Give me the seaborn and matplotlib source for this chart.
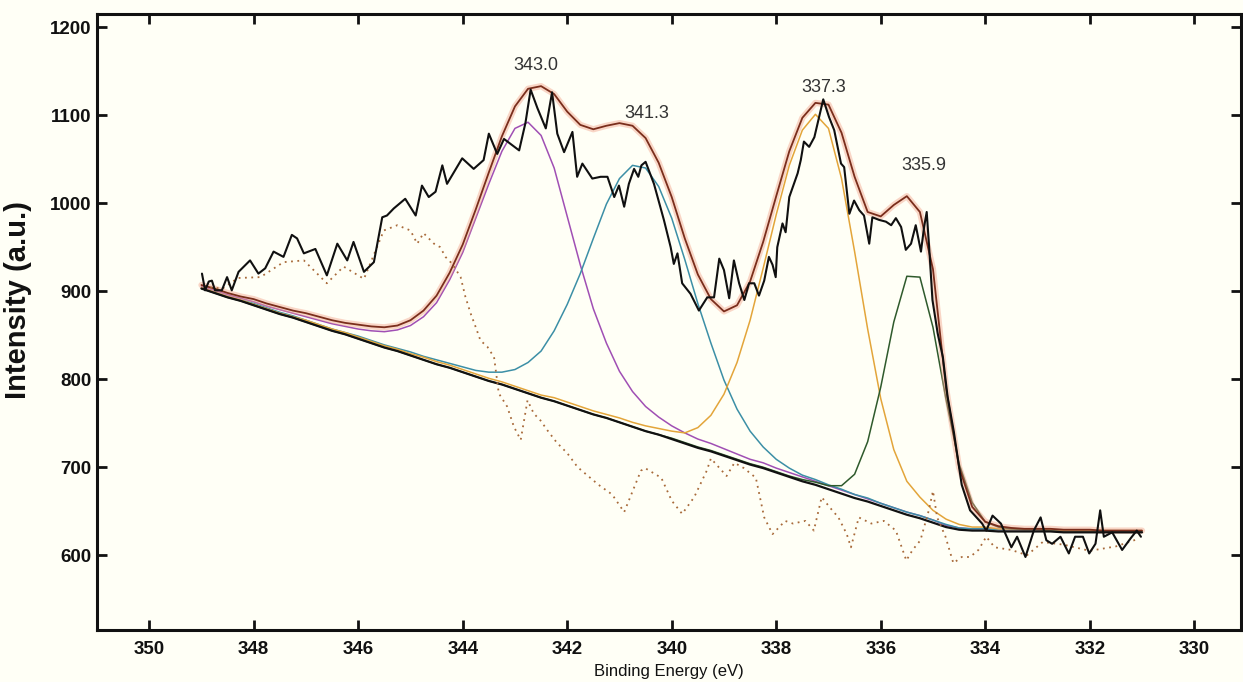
import numpy as np
import matplotlib
matplotlib.use("Agg")
import matplotlib.pyplot as plt
import seaborn as sns

# grid for the fitted curves: 349.00 -> 331.00 eV, step 0.25 (4 points per eV row)
grid_x = np.arange(0, 73) * -0.25 + 349.0

# Shirley-like background (absolute intensity)
background = [
    903, 898, 893, 889,   # 349
    884, 879, 874, 870,   # 348
    865, 860, 855, 851,   # 347
    846, 841, 836, 832,   # 346
    827, 822, 817, 813,   # 345
    808, 803, 798, 794,   # 344
    789, 784, 779, 775,   # 343
    770, 765, 760, 756,   # 342
    751, 746, 741, 737,   # 341
    732, 727, 722, 718,   # 340
    713, 708, 703, 699,   # 339
    694, 689, 684, 680,   # 338
    675, 670, 665, 661,   # 337
    656, 651, 646, 642,   # 336
    637, 632, 629, 628,   # 335
    628, 627, 627, 627,   # 334
    627, 627, 626, 626,   # 333
    626, 626, 626, 626,   # 332
    626,                  # 331
]

# component heights above the background
peak_343 = [
    2, 3, 3, 3,  4, 4, 5, 5,  6, 7, 8, 9,  11, 14, 18, 24,
    34, 49, 70, 100,  136, 180, 224, 265,  296, 308, 298, 265,
    215, 165, 120, 85,  58, 40, 28, 20,  15, 12, 10, 9,
    8, 7, 6, 6,  5, 5, 5, 4,  4, 4, 4, 3,  3, 3, 3, 3,
    3, 2, 2, 2,  2, 2, 2, 2,  2, 1, 1, 1,  1, 1, 1, 1,  1,
]
peak_341 = [
    1, 1, 1, 1,  2, 2, 2, 2,  2, 2, 2, 2,  3, 3, 3, 3,
    4, 4, 5, 5,  6, 7, 10, 14,  22, 35, 53, 80,
    115, 155, 200, 243,  277, 297, 299, 282,  251, 209, 164, 123,
    86, 58, 38, 24,  15, 10, 7, 6,  5, 5, 4, 4,  3, 3, 3, 3,
    3, 3, 2, 2,  2, 2, 2, 2,  2, 2, 2, 2,  1, 1, 1, 1,  1,
]
peak_337 = [
    1, 1, 1, 1,  1, 1, 1, 1,  2, 2, 2, 2,  2, 2, 2, 2,
    2, 3, 3, 3,  3, 3, 3, 3,  3, 3, 3, 4,
    4, 4, 4, 4,  5, 5, 6, 7,  9, 12, 23, 41,
    70, 111, 164, 227,  293, 354, 399, 421,  410, 358, 280, 196,
    122, 69, 38, 24,  14, 9, 6, 4,  4, 3, 3, 3,  3, 2, 2, 2,
    2, 2, 2, 2,  2,
]
peak_335 = [
    0, 0, 0, 0,  0, 0, 0, 0,  0, 0, 0, 0,  0, 0, 0, 0,
    0, 0, 0, 0,  0, 0, 0, 0,  0, 0, 0, 0,
    0, 0, 0, 0,  0, 0, 0, 0,  1, 1, 1, 1,
    1, 1, 1, 1,  1, 1, 2, 3,  4, 9, 27, 68,
    135, 214, 271, 274,  222, 145, 75, 32,  10, 5, 3, 2,  2, 1, 1, 1,
    1, 1, 1, 1,  1,
]

# fitted envelope (absolute intensity)
envelope = [
    907, 903, 898, 894,  891, 886, 882, 878,  875, 871, 867, 864,
    862, 860, 859, 861,  867, 878, 895, 921,  953, 993, 1035, 1076,
    1110, 1130, 1133, 1124,  1104, 1089, 1084, 1088,  1091, 1088, 1074, 1046,
    1007, 960, 919, 891,  877, 884, 911, 956,  1008, 1059, 1097, 1114,
    1112, 1080, 1030, 990,  985, 998, 1008, 990,  925, 790, 700, 655,
    638, 633, 631, 630,  630, 630, 629, 629,  629, 628, 628, 628,  628,
]

# measured spectrum
raw_x = [
    348.99, 348.93, 348.86, 348.80, 348.74, 348.61, 348.51, 348.42, 348.29, 348.07,
    347.91, 347.78, 347.62, 347.43, 347.27, 347.17, 347.04, 346.82, 346.60, 346.40,
    346.21, 346.09, 345.89, 345.70, 345.54, 345.45, 345.32, 345.10, 344.90, 344.78,
    344.65, 344.52, 344.39, 344.30, 344.01, 343.79, 343.60, 343.50, 343.34, 343.21,
    342.92, 342.80, 342.70, 342.57, 342.41, 342.29, 342.19, 342.06, 341.90, 341.81,
    341.71, 341.62, 341.52, 341.36, 341.23, 341.10, 341.01, 340.91, 340.82, 340.72,
    340.64, 340.58, 340.50, 340.34, 340.15, 340.02, 339.96, 339.89, 339.80, 339.64,
    339.48, 339.32, 339.19, 339.09, 339.00, 338.90, 338.81, 338.71, 338.61, 338.52,
    338.42, 338.33, 338.23, 338.14, 338.07, 338.01, 337.98, 337.88, 337.82, 337.75,
    337.66, 337.59, 337.53, 337.47, 337.37, 337.27, 337.18, 337.10, 336.99, 336.89,
    336.76, 336.70, 336.60, 336.51, 336.41, 336.32, 336.22, 336.16, 336.03, 335.90,
    335.80, 335.71, 335.61, 335.52, 335.42, 335.33, 335.23, 335.17, 335.12, 335.07,
    335.01, 334.91, 334.81, 334.72, 334.60, 334.45, 334.29, 334.06, 333.98, 333.86,
    333.70, 333.50, 333.39, 333.23, 333.07, 332.94, 332.83, 332.72, 332.56, 332.40,
    332.28, 332.13, 332.01, 331.89, 331.80, 331.73, 331.57, 331.38, 331.22, 331.10,
    331.02,
]
raw_y = [
    920, 901, 911, 912, 901, 901, 916, 901, 922, 935,
    920, 926, 945, 939, 964, 960, 943, 948, 918, 954,
    935, 956, 922, 933, 984, 986, 994, 1005, 986, 1020,
    1007, 1013, 1043, 1022, 1051, 1039, 1049, 1079, 1056, 1073,
    1060, 1091, 1129, 1108, 1085, 1126, 1079, 1058, 1081, 1030,
    1045, 1037, 1028, 1030, 1030, 1007, 1020, 996, 1022, 1039,
    1030, 1043, 1047, 1022, 981, 950, 931, 943, 909, 897,
    878, 893, 893, 937, 924, 892, 935, 909, 890, 909,
    909, 895, 912, 939, 930, 916, 950, 977, 967, 1007,
    1022, 1034, 1049, 1070, 1064, 1075, 1098, 1118, 1098, 1083,
    1045, 1041, 988, 1003, 992, 986, 954, 984, 981, 979,
    975, 983, 973, 947, 954, 975, 945, 973, 990, 947,
    890, 852, 825, 780, 740, 680, 651, 636, 628, 645,
    636, 609, 621, 598, 628, 643, 617, 613, 621, 602,
    621, 621, 602, 613, 651, 621, 626, 606, 619, 628,
    621,
]

# residual (dotted)
res_x = [
    348.95, 348.60, 348.30, 347.87, 347.43, 347.04, 346.60, 346.28, 345.89, 345.51,
    345.25, 345.00, 344.87, 344.75, 344.55, 344.43, 344.33, 344.20, 344.04, 343.95,
    343.85, 343.75, 343.66, 343.53, 343.40, 343.31, 343.15, 343.02, 342.89, 342.76,
    342.64, 342.51, 342.38, 342.20, 342.00, 341.80, 341.60, 341.40, 341.14, 340.91,
    340.59, 340.51, 340.20, 340.00, 339.80, 339.57, 339.33, 339.25, 338.95, 338.80,
    338.62, 338.39, 338.23, 338.07, 337.83, 337.68, 337.44, 337.28, 337.13, 336.97,
    336.81, 336.65, 336.57, 336.42, 336.18, 335.94, 335.71, 335.51, 335.39, 335.24,
    335.08, 335.00, 334.92, 334.76, 334.61, 334.45, 334.29, 334.13, 333.98, 333.82,
    333.50, 333.20, 332.90, 332.50, 332.00, 331.50, 331.10,
]
res_y = [
    905, 903, 915, 916, 933, 935, 909, 928, 914, 969,
    975, 969, 954, 966, 954, 950, 939, 931, 916, 894,
    875, 859, 844, 837, 825, 784, 769, 746, 731, 776,
    761, 753, 742, 728, 716, 700, 690, 680, 669, 649,
    696, 699, 688, 662, 647, 666, 696, 710, 690, 705,
    699, 688, 643, 624, 639, 636, 639, 628, 666, 654,
    643, 624, 609, 643, 636, 639, 628, 594, 606, 617,
    651, 673, 643, 621, 591, 598, 598, 606, 621, 609,
    606, 600, 615, 612, 605, 610, 618,
]

peak_labels = ["343.0", "341.3", "337.3", "335.9"]
label_x = [342.6, 340.48, 337.1, 335.17]
label_y = [1156, 1102, 1132, 1043]

x_ticks = list(range(350, 329, -2))
y_ticks = list(range(600, 1201, 100))

sns.set_theme(style="ticks")
plt.rcParams["font.family"] = ["Liberation Sans", "DejaVu Sans"]

bg_color = "#fffff6"
fig = plt.figure(figsize=(12.43, 6.82), dpi=100, facecolor=bg_color)
ax = fig.add_axes([0.078, 0.0762, 0.9206, 0.9033])
ax.set_facecolor(bg_color)

base = np.array(background, dtype=float)
comps = [
    (peak_343, "#a04fb4"),
    (peak_341, "#3c8fa6"),
    (peak_337, "#e3a53a"),
    (peak_335, "#2f5a2c"),
]
for heights, col in comps:
    sns.lineplot(x=grid_x, y=base + np.array(heights), ax=ax, color=col,
                 lw=1.1, estimator=None, sort=False)

# envelope with a soft halo
sns.lineplot(x=grid_x, y=envelope, ax=ax, color="#f2a48c", lw=4.5, alpha=0.45,
             estimator=None, sort=False)
sns.lineplot(x=grid_x, y=envelope, ax=ax, color="#7a2e1c", lw=1.3,
             estimator=None, sort=False)

sns.lineplot(x=grid_x, y=base, ax=ax, color="#111111", lw=1.6,
             estimator=None, sort=False)

sns.lineplot(x=res_x, y=res_y, ax=ax, color="#a86a3a", lw=1.3,
             linestyle=(0, (1, 2.5)), estimator=None, sort=False)

sns.lineplot(x=raw_x, y=raw_y, ax=ax, color="#101010", lw=1.5,
             estimator=None, sort=False)

for txt, lx, ly in zip(peak_labels, label_x, label_y):
    ax.text(lx, ly, txt, ha="center", va="center", fontsize=13, color="#333333")

ax.set_xlim(351, 329.1)
ax.set_ylim(515, 1215)
ax.set_xticks(x_ticks)
ax.set_yticks(y_ticks)
ax.tick_params(direction="in", length=7, width=2, top=True, right=True,
               labelsize=13.5, colors="#111111")
ax.tick_params(axis="x", pad=8)
ax.tick_params(axis="y", pad=4)
for lbl in ax.get_xticklabels() + ax.get_yticklabels():
    lbl.set_fontweight("bold")
for sp in ax.spines.values():
    sp.set_linewidth(2.2)
    sp.set_color("#111111")

ax.set_xlabel("Binding Energy (eV)", fontsize=12, color="#111111")
ax.xaxis.set_label_coords(0.5, -0.055)
ax.set_ylabel("Intensity (a.u.)", fontsize=21, fontweight="bold", color="#111111")
ax.yaxis.set_label_coords(-0.057, 0.536)

fig.savefig("out.png", dpi=100, facecolor=bg_color)
